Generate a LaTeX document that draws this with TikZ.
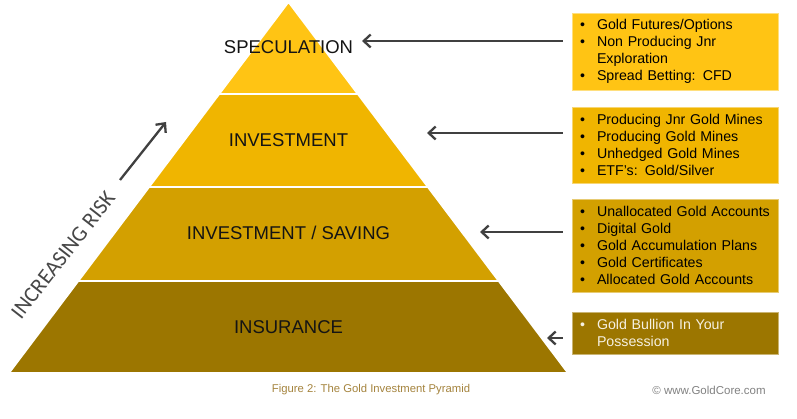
\documentclass[tikz,border=0pt]{standalone}
\usepackage{fontspec}
\setmainfont{Liberation Sans}
\newfontfamily\calibfont{Carlito}
\usetikzlibrary{arrows.meta}
\definecolor{gA}{RGB}{255,196,20}
\definecolor{gB}{RGB}{240,181,0}
\definecolor{gC}{RGB}{211,160,0}
\definecolor{gD}{RGB}{156,118,0}
\definecolor{darkg}{RGB}{64,64,64}
\definecolor{capcol}{RGB}{165,132,62}
\definecolor{copycol}{RGB}{130,130,130}
\definecolor{cream}{RGB}{246,241,226}
\newcommand\bulit{\makebox[17pt][l]{\textbullet}}
\begin{document}
\begin{tikzpicture}[x=1pt,y=-1pt,
  layer/.style={draw=white,line width=1.8pt,line join=miter},
  lbl/.style={font=\fontsize{18.5}{20}\selectfont,anchor=base,inner sep=0pt,text=black!92},
  box/.style={minimum width=206pt,text width=190pt,inner xsep=8pt,inner ysep=0pt,
    align=left,font=\fontsize{14.2}{16.8}\selectfont,line width=0.8pt},
  arr/.style={draw=darkg,line width=2.3pt,shorten <=9pt,-{Straight Barb[length=7pt,width=13pt]}},
]
\useasboundingbox (0,0) rectangle (797,419);
\fill[white] (0,0) rectangle (797,419);
% pyramid layers
\filldraw[layer,fill=gA] (288.5,2) -- (357.8,94) -- (219.2,94) -- cycle;
\filldraw[layer,fill=gB] (219.2,94) -- (357.8,94) -- (427.9,187) -- (149.1,187) -- cycle;
\filldraw[layer,fill=gC] (149.1,187) -- (427.9,187) -- (498.7,281) -- (78.3,281) -- cycle;
\filldraw[layer,fill=gD] (78.3,281) -- (498.7,281) -- (568,373) -- (9,373) -- cycle;
% layer labels
\node[lbl] (l1) at (288.5,53.3) {SPECULATION};
\node[lbl] (l2) at (288.5,146.6) {INVESTMENT};
\node[lbl] (l3) at (288.5,239.6) {INVESTMENT / SAVING};
\node[lbl] (l4) at (288.5,333.3) {INSURANCE};
% boxes
\node[box,fill=gA,draw=gA!55!white,minimum height=77pt] (b1) at (675,51.5)
  {\bulit Gold Futures/Options\\
   \bulit Non Producing Jnr\\
   \hspace*{17pt}Exploration\\
   \bulit Spread Betting: CFD};
\node[box,fill=gB,draw=gB!55!white,minimum height=76pt] (b2) at (675,145)
  {\bulit Producing Jnr Gold Mines\\
   \bulit Producing Gold Mines\\
   \bulit Unhedged Gold Mines\\
   \bulit ETF's: Gold/Silver};
\node[box,fill=gC,draw=gC!55!white,minimum height=93pt] (b3) at (675,245.5)
  {\bulit Unallocated Gold Accounts\\
   \bulit Digital Gold\\
   \bulit Gold Accumulation Plans\\
   \bulit Gold Certificates\\
   \bulit Allocated Gold Accounts};
\node[box,fill=gD,draw=gD!55!white,minimum height=42pt,text=cream] (b4) at (675,333)
  {\bulit Gold Bullion In Your\\
   \hspace*{17pt}Possession};
% arrow tips
\coordinate (t1) at (362,41);
\coordinate (t2) at (427,133);
\coordinate (t3) at (480,232);
\coordinate (t4) at (547,338);
\draw[arr] (b1.west |- t1) -- (t1);
\draw[arr] (b2.west |- t2) -- (t2);
\draw[arr] (b3.west |- t3) -- (t3);
\draw[arr] (b4.west |- t4) -- (t4);
% increasing risk
\coordinate (r0) at (120,180);
\coordinate (r1) at (166,122);
\draw[draw=darkg,line width=2.3pt,-{Straight Barb[length=7pt,width=13pt]}] (r0) -- (r1);
\node[rotate=52,font=\calibfont\fontsize{22}{24}\selectfont,text=black!72,inner sep=0pt] (risk) at (63,255) {INCREASING RISK};
% captions
\node[font=\fontsize{11.3}{13}\selectfont,text=capcol,inner sep=0pt] (cap) at (371,390) {Figure 2: The Gold Investment Pyramid};
\node[font=\fontsize{11.5}{13}\selectfont,text=copycol,inner sep=0pt] (copy) at (709,390) {\textcopyright{} www.GoldCore.com};
\end{tikzpicture}
\end{document}
